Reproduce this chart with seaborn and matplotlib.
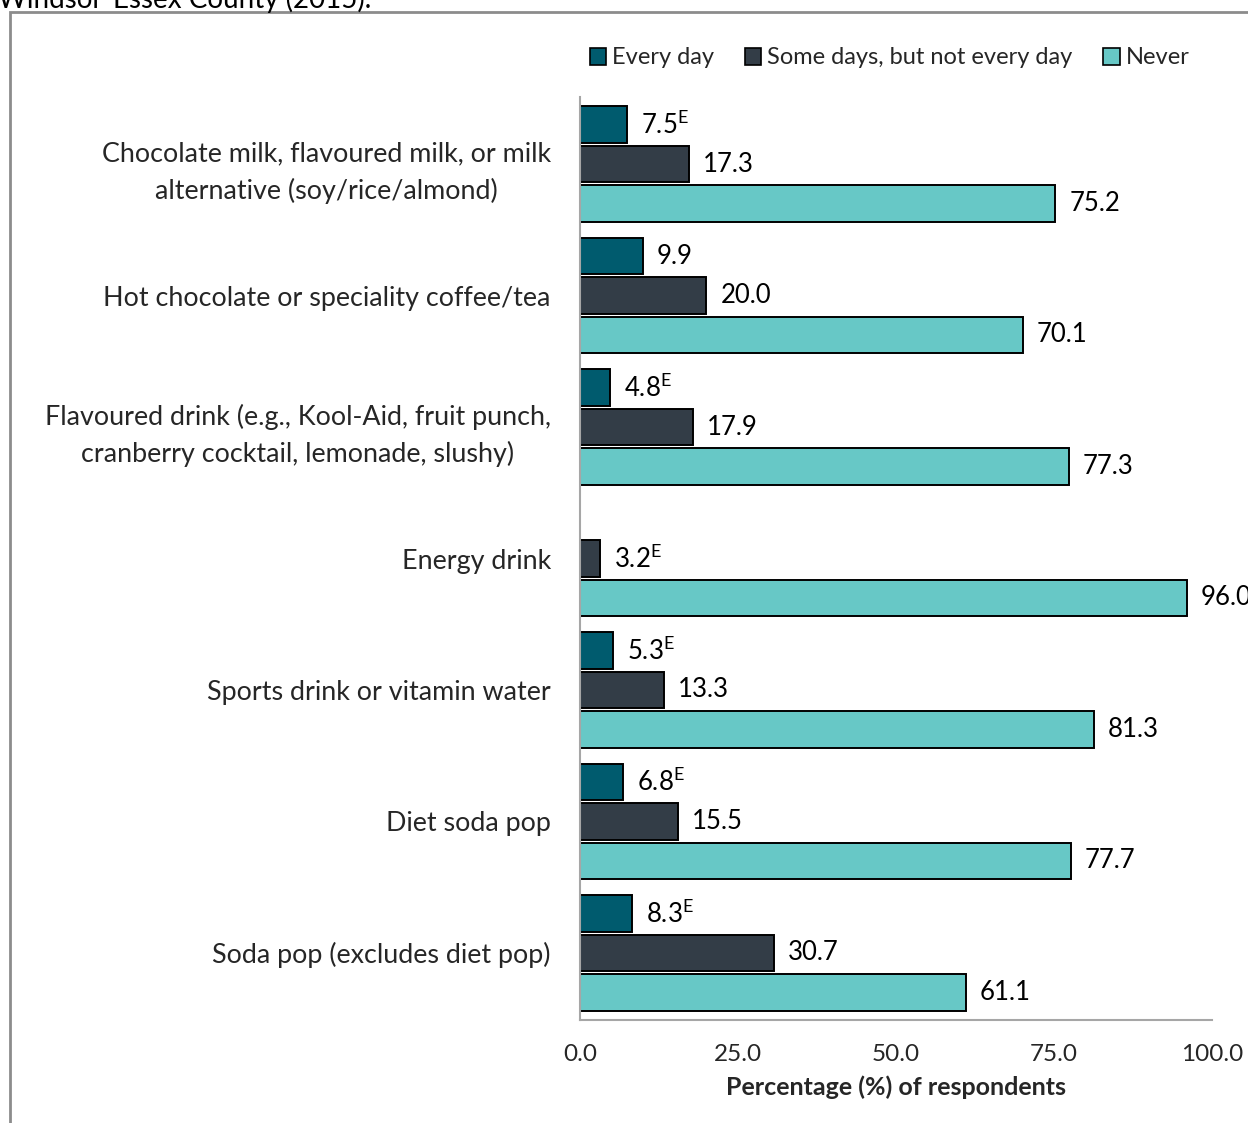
import numpy as np
import pandas as pd
import matplotlib
matplotlib.use("Agg")
import matplotlib.pyplot as plt
from matplotlib.patches import Rectangle
import seaborn as sns

# Beverage categories (top to bottom)
beverages = [
    "Chocolate milk, flavoured milk, or milk\nalternative (soy/rice/almond)",
    "Hot chocolate or speciality coffee/tea",
    "Flavoured drink (e.g., Kool-Aid, fruit punch,\ncranberry cocktail, lemonade, slushy)",
    "Energy drink",
    "Sports drink or vitamin water",
    "Diet soda pop",
    "Soda pop (excludes diet pop)",
]
frequencies = ["Every day", "Some days, but not every day", "Never"]

# Percentage of respondents; NaN = estimate not reported
every_day = [7.5, 9.9, 4.8, np.nan, 5.3, 6.8, 8.3]
some_days = [17.3, 20.0, 17.9, 3.2, 13.3, 15.5, 30.7]
never = [75.2, 70.1, 77.3, 96.0, 81.3, 77.7, 61.1]

# Estimates flagged with high sampling variability (superscript E)
every_day_flag = [True, False, True, False, True, True, True]
some_days_flag = [False, False, False, True, False, False, False]
never_flag = [False] * 7

x_ticks = [0, 25, 50, 75, 100]
x_label = "Percentage (%) of respondents"
colors = ["#005B6E", "#333D47", "#67C8C6"]

df = pd.DataFrame({
    "beverage": beverages * 3,
    "frequency": [f for f in frequencies for _ in beverages],
    "pct": every_day + some_days + never,
    "flag": every_day_flag + some_days_flag + never_flag,
})

sns.set_theme(style="white")
plt.rcParams["font.family"] = ["Lato", "DejaVu Sans"]
plt.rcParams["mathtext.fontset"] = "custom"
plt.rcParams["mathtext.rm"] = "Lato"

fig = plt.figure(figsize=(12.48, 11.23), dpi=100)
ax = fig.add_axes([580 / 1248, 1 - 1020 / 1123, (1212 - 580) / 1248, (1020 - 97) / 1123])

sns.barplot(
    data=df, y="beverage", x="pct", hue="frequency",
    order=beverages, hue_order=frequencies, palette=colors,
    orient="h", width=0.9, gap=0.08, edgecolor="black", linewidth=1.4,
    saturation=1, errorbar=None, legend=False, ax=ax,
)

# Value labels next to each bar (bars matched to categories by position)
for container, freq in zip(ax.containers, frequencies):
    sub = df[df["frequency"] == freq].reset_index(drop=True)
    for bar in container:
        yc = bar.get_y() + bar.get_height() / 2
        idx = int(round(yc))
        val, flag = sub.loc[idx, "pct"], sub.loc[idx, "flag"]
        if np.isnan(val):
            continue
        label = f"{val:.1f}" + (r"$^{\mathrm{E}}$" if flag else "")
        ax.annotate(label, (bar.get_width(), yc),
                    xytext=(10, 0), textcoords="offset points",
                    ha="left", va="center", fontsize=18.5, color="black",
                    annotation_clip=False)

ax.set_xlim(0, 100)
ax.set_ylim(6.51, -0.51)
ax.set_xticks(x_ticks)
ax.set_xticklabels([f"{t:.1f}" for t in x_ticks], fontsize=17.5)
ax.tick_params(axis="x", length=0, pad=17)
ax.tick_params(axis="y", length=0, pad=21)
for lbl in ax.get_yticklabels():
    lbl.set_fontsize(19.4)
    lbl.set_multialignment("center")
    lbl.set_linespacing(1.55)
ax.set_ylabel("")
ax.set_xlabel(x_label, fontsize=18, fontweight="bold", labelpad=8)

for side in ["top", "right"]:
    ax.spines[side].set_visible(False)
for side in ["left", "bottom"]:
    ax.spines[side].set_color("#A6A6A6")
    ax.spines[side].set_linewidth(1.5)

# Legend
handles = [Rectangle((0, 0), 1, 1, facecolor=c, edgecolor="black", linewidth=1.2) for c in colors]
fig.legend(handles, frequencies, loc="center right",
           bbox_to_anchor=(1199 / 1248, 1 - 58 / 1123), ncol=3, frameon=False,
           fontsize=17, handlelength=0.7, handleheight=0.7, handletextpad=0.25,
           columnspacing=1.3, borderaxespad=0)

# Surrounding chart frame and heading
fig.add_artist(Rectangle((10 / 1248, -0.1), 1.2, 1 - 12 / 1123 + 0.1,
                         transform=fig.transFigure, fill=False,
                         edgecolor="#8C8C8C", linewidth=2))
fig.text(-2 / 1248, 1 - 8 / 1123, "Windsor-Essex County (2015).", fontsize=20,
         ha="left", va="baseline", color="black")

fig.savefig("out.png", dpi=100)
